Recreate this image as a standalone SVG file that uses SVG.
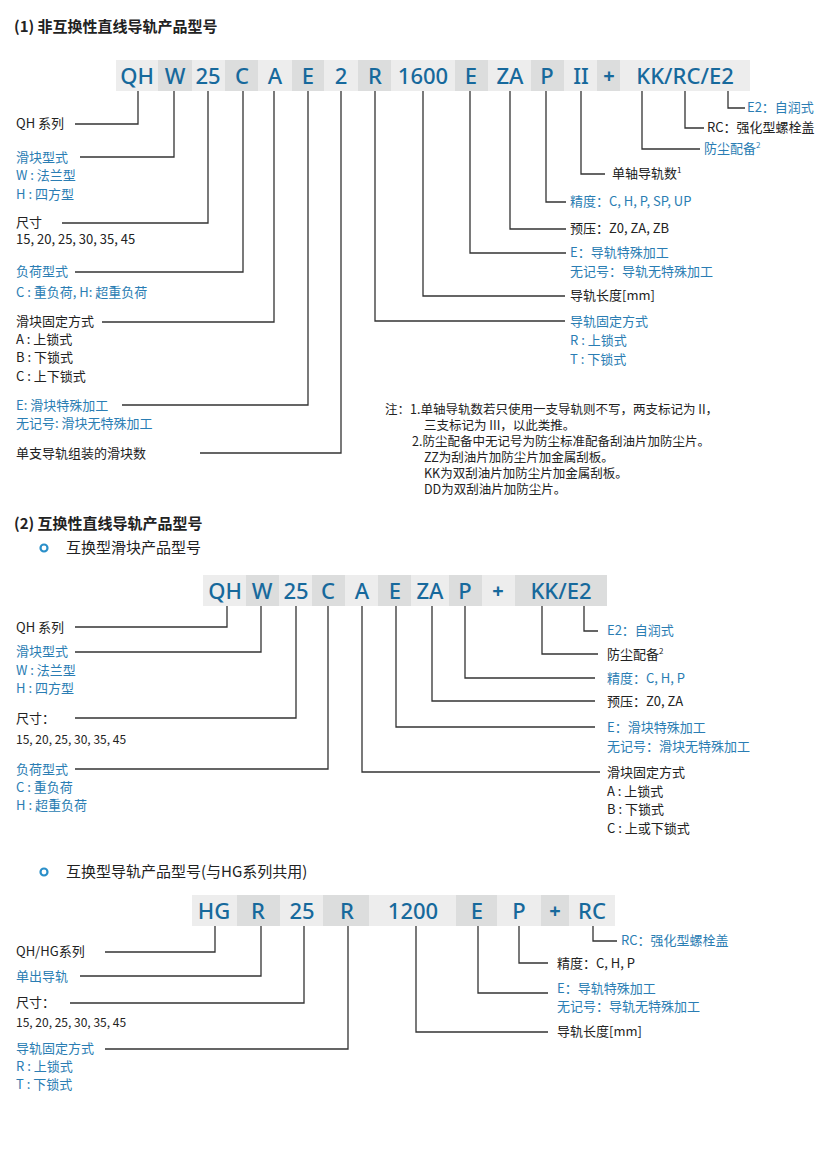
<svg xmlns="http://www.w3.org/2000/svg" width="828" height="1149" viewBox="0 0 828 1149">
<style>
text{font-family:"Noto Sans CJK SC","Noto Sans",sans-serif;font-size:13px;fill:#222}
.b{fill:#2a7db3}
.h{font-size:15px;font-weight:bold;fill:#222}
.n{font-size:12.5px}
.code{font-family:"Noto Sans","Noto Sans CJK SC",sans-serif;font-size:22px;font-weight:500;fill:#17699c;text-anchor:middle}
.plus{font-size:20px;font-weight:bold}
.l{fill:#ededed}.d{fill:#dcdddd}
.c path{fill:none;stroke:#333;stroke-width:1.3}
.dot{fill:none;stroke:#2a8fc9;stroke-width:2.2}
</style>
<rect width="828" height="1149" fill="#fff"/>
<text x="14" y="32" class="h">(1) 非互换性直线导轨产品型号</text>
<text x="14" y="529" class="h">(2) 互换性直线导轨产品型号</text>
<circle class="dot" cx="44" cy="548" r="3.5"/><text x="66" y="553" style="font-size:15px">互换型滑块产品型号</text>
<circle class="dot" cx="44" cy="872" r="3.5"/><text x="66" y="877" style="font-size:15px">互换型导轨产品型号(与HG系列共用)</text>

<g id="code1">
<rect class="l" x="116" y="60" width="42" height="31"/><rect class="d" x="158" y="60" width="34" height="31"/>
<rect class="l" x="192" y="60" width="33" height="31"/><rect class="d" x="225" y="60" width="33" height="31"/>
<rect class="l" x="258" y="60" width="34" height="31"/><rect class="d" x="292" y="60" width="32" height="31"/>
<rect class="l" x="324" y="60" width="34" height="31"/><rect class="d" x="358" y="60" width="33" height="31"/>
<rect class="l" x="391" y="60" width="64" height="31"/><rect class="d" x="455" y="60" width="33" height="31"/>
<rect class="l" x="488" y="60" width="43" height="31"/><rect class="d" x="531" y="60" width="33" height="31"/>
<rect class="l" x="564" y="60" width="33" height="31"/><rect class="d" x="597" y="60" width="23" height="31"/>
<rect class="l" x="620" y="60" width="130" height="31"/>
<text class="code" x="137" y="84">QH</text><text class="code" x="175" y="84">W</text><text class="code" x="208" y="84">25</text>
<text class="code" x="242" y="84">C</text><text class="code" x="275" y="84">A</text><text class="code" x="308" y="84">E</text>
<text class="code" x="341" y="84">2</text><text class="code" x="375" y="84">R</text><text class="code" x="423" y="84">1600</text>
<text class="code" x="471" y="84">E</text><text class="code" x="510" y="84">ZA</text><text class="code" x="547" y="84">P</text>
<text class="code" x="581" y="84">II</text><text class="code plus" x="609" y="83">+</text><text class="code" x="685" y="84">KK/RC/E2</text>
</g>
<g class="c" id="conn1">
<path d="M138 91V124H75"/><path d="M174 91V157H80"/><path d="M208 91V223H62"/><path d="M243 91V272H75"/>
<path d="M274 91V322H102"/><path d="M308 91V405H122"/><path d="M341 91V453H200"/><path d="M375 91V321H565"/>
<path d="M423 91V296H565"/><path d="M470 91V253H566"/><path d="M510 91V229H566"/><path d="M546 91V202H566"/>
<path d="M581 91V174H605"/><path d="M642 91V149H700"/><path d="M685 91V128H704"/><path d="M728 91V108H745"/>
</g>
<g id="labels1">
<text x="16" y="128">QH 系列</text>
<text x="16" y="162" class="b">滑块型式</text><text x="16" y="180" class="b">W : 法兰型</text><text x="16" y="199" class="b">H : 四方型</text>
<text x="16" y="227">尺寸</text><text x="16" y="244">15, 20, 25, 30, 35, 45</text>
<text x="16" y="276" class="b">负荷型式</text><text x="16" y="297" class="b">C : 重负荷, H: 超重负荷</text>
<text x="16" y="326">滑块固定方式</text><text x="16" y="344">A : 上锁式</text><text x="16" y="362">B : 下锁式</text><text x="16" y="381">C : 上下锁式</text>
<text x="16" y="410" class="b">E: 滑块特殊加工</text><text x="16" y="428" class="b">无记号: 滑块无特殊加工</text>
<text x="16" y="458">单支导轨组装的滑块数</text>
<text x="570" y="326" class="b">导轨固定方式</text><text x="570" y="345" class="b">R : 上锁式</text><text x="570" y="364" class="b">T : 下锁式</text>
<text x="570" y="300">导轨长度[mm]</text>
<text x="570" y="257" class="b">E：导轨特殊加工</text><text x="570" y="276" class="b">无记号：导轨无特殊加工</text>
<text x="570" y="233">预压：Z0, ZA, ZB</text>
<text x="570" y="206" class="b">精度：C, H, P, SP, UP</text>
<text x="612" y="178">单轴导轨数<tspan dy="-5" font-size="8">1</tspan></text>
<text x="704" y="153" class="b">防尘配备<tspan dy="-5" font-size="8">2</tspan></text>
<text x="707" y="132">RC：强化型螺栓盖</text>
<text x="747" y="112" class="b">E2：自润式</text>
</g>
<g id="notes">
<text class="n" x="385" y="414">注：1.单轴导轨数若只使用一支导轨则不写，两支标记为 II，</text>
<text class="n" x="424" y="430">三支标记为 III，以此类推。</text>
<text class="n" x="412" y="446">2.防尘配备中无记号为防尘标准配备刮油片加防尘片。</text>
<text class="n" x="424" y="462">ZZ为刮油片加防尘片加金属刮板。</text>
<text class="n" x="424" y="478">KK为双刮油片加防尘片加金属刮板。</text>
<text class="n" x="424" y="494">DD为双刮油片加防尘片。</text>
</g>

<g id="code2">
<rect class="l" x="203" y="575" width="43" height="31"/><rect class="d" x="246" y="575" width="33" height="31"/>
<rect class="l" x="279" y="575" width="33" height="31"/><rect class="d" x="312" y="575" width="33" height="31"/>
<rect class="l" x="345" y="575" width="33" height="31"/><rect class="d" x="378" y="575" width="33" height="31"/>
<rect class="l" x="411" y="575" width="38" height="31"/><rect class="d" x="449" y="575" width="33" height="31"/>
<rect class="l" x="482" y="575" width="33" height="31"/><rect class="d" x="515" y="575" width="92" height="31"/>
<text class="code" x="225" y="599">QH</text><text class="code" x="262" y="599">W</text><text class="code" x="296" y="599">25</text>
<text class="code" x="328" y="599">C</text><text class="code" x="362" y="599">A</text><text class="code" x="395" y="599">E</text>
<text class="code" x="430" y="599">ZA</text><text class="code" x="465" y="599">P</text><text class="code plus" x="498" y="598">+</text>
<text class="code" x="561" y="599">KK/E2</text>
</g>
<g class="c" id="conn2">
<path d="M227 606V627H75"/><path d="M261 606V652H75"/><path d="M296 606V718H75"/><path d="M328 606V769H75"/>
<path d="M362 606V772H600"/><path d="M396 606V727H595"/><path d="M432 606V701H595"/><path d="M465 606V678H595"/>
<path d="M542 606V654H598"/><path d="M584 606V631H598"/>
</g>
<g id="labels2">
<text x="16" y="632">QH 系列</text>
<text x="16" y="656" class="b">滑块型式</text><text x="16" y="675" class="b">W : 法兰型</text><text x="16" y="693" class="b">H : 四方型</text>
<text x="16" y="723">尺寸：</text><text x="16" y="744" style="font-size:12px">15, 20, 25, 30, 35, 45</text>
<text x="16" y="774" class="b">负荷型式</text><text x="16" y="792" class="b">C : 重负荷</text><text x="16" y="810" class="b">H : 超重负荷</text>
<text x="607" y="635" class="b">E2：自润式</text>
<text x="607" y="659">防尘配备<tspan dy="-5" font-size="8">2</tspan></text>
<text x="607" y="683" class="b">精度：C, H, P</text>
<text x="607" y="706">预压：Z0, ZA</text>
<text x="607" y="732" class="b">E：滑块特殊加工</text><text x="607" y="751" class="b">无记号：滑块无特殊加工</text>
<text x="607" y="777">滑块固定方式</text><text x="607" y="796">A : 上锁式</text><text x="607" y="814">B : 下锁式</text><text x="607" y="833">C : 上或下锁式</text>
</g>

<g id="code3">
<rect class="l" x="192" y="895" width="45" height="31"/><rect class="d" x="237" y="895" width="43" height="31"/>
<rect class="l" x="280" y="895" width="43" height="31"/><rect class="d" x="323" y="895" width="46" height="31"/>
<rect class="l" x="369" y="895" width="87" height="31"/><rect class="d" x="456" y="895" width="41" height="31"/>
<rect class="l" x="497" y="895" width="44" height="31"/><rect class="d" x="541" y="895" width="28" height="31"/>
<rect class="l" x="569" y="895" width="46" height="31"/>
<text class="code" x="214" y="919">HG</text><text class="code" x="258" y="919">R</text><text class="code" x="302" y="919">25</text>
<text class="code" x="347" y="919">R</text><text class="code" x="413" y="919">1200</text><text class="code" x="477" y="919">E</text>
<text class="code" x="519" y="919">P</text><text class="code plus" x="555" y="918">+</text><text class="code" x="592" y="919">RC</text>
</g>
<g class="c" id="conn3">
<path d="M215 926V952H105"/><path d="M261 926V976H80"/><path d="M304 926V1003H70"/><path d="M348 926V1049H105"/>
<path d="M416 926V1032H548"/><path d="M478 926V993H548"/><path d="M519 926V963H548"/><path d="M593 926V941H617"/>
</g>
<g id="labels3">
<text x="16" y="956">QH/HG系列</text>
<text x="16" y="981" class="b">单出导轨</text>
<text x="16" y="1007">尺寸：</text><text x="16" y="1027" style="font-size:12px">15, 20, 25, 30, 35, 45</text>
<text x="16" y="1053" class="b">导轨固定方式</text><text x="16" y="1071" class="b">R : 上锁式</text><text x="16" y="1089" class="b">T : 下锁式</text>
<text x="621" y="945" class="b">RC：强化型螺栓盖</text>
<text x="557" y="968">精度：C, H, P</text>
<text x="557" y="993" class="b">E：导轨特殊加工</text><text x="557" y="1011" class="b">无记号：导轨无特殊加工</text>
<text x="557" y="1036">导轨长度[mm]</text>
</g>
</svg>
